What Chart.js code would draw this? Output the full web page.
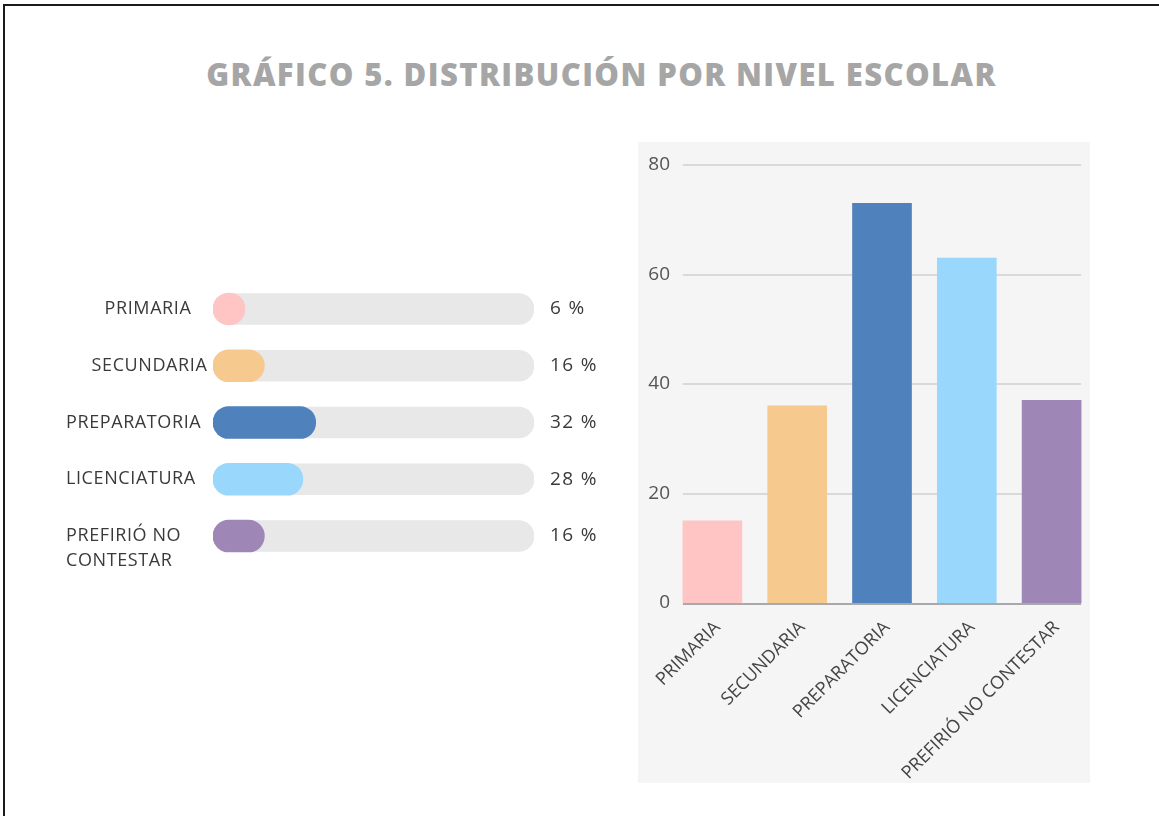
<!DOCTYPE html>
<html><head><meta charset="utf-8">
<script src="https://cdn.jsdelivr.net/npm/chart.js@4"></script>
<style>
html,body{margin:0;padding:0;background:#fff;width:1159px;height:816px;overflow:hidden;}
#frame{position:absolute;left:3px;top:4px;width:1200px;height:900px;border-top:2px solid #1b1b1b;border-left:2px solid #1b1b1b;}
#title{position:absolute;left:0;width:1203px;top:60px;line-height:29px;text-align:center;font-family:'Open Sans';font-weight:800;font-size:31px;letter-spacing:1.4px;color:#a6a6a6;white-space:nowrap;}
#left{position:absolute;left:0;top:260px;}
#right{position:absolute;left:630px;top:140px;}
</style></head>
<body>
<div id="frame"></div>
<div id="title">GRÁFICO 5. DISTRIBUCIÓN POR NIVEL ESCOLAR</div>
<canvas id="left" width="620" height="330"></canvas>
<canvas id="right" width="480" height="660"></canvas>
<script>
const categories = ['PRIMARIA','SECUNDARIA','PREPARATORIA','LICENCIATURA','PREFIRIÓ NO CONTESTAR'];
const leftLabels = ['PRIMARIA','SECUNDARIA','PREPARATORIA','LICENCIATURA',['PREFIRIÓ NO','CONTESTAR']];
const percentValues = [6,16,32,28,16];
const trackValues = [100,100,100,100,100];
const countValues = [15,36,73,63,37];
const yTickMin = 0, yTickMax = 80, yTickStep = 20;

const barColors = ['#FFC4C4','#F6CA8E','#4F81BD','#99D8FC','#9E86B6'];
const leftLabelStyle = [
  {x:148, align:'center'},{x:149.5, align:'center'},{x:66, align:'left'},{x:66, align:'left'},{x:66, align:'left'}
];
const FONT = '"Open Sans", sans-serif';

const leftLabelPlugin = {
  id:'leftLabels',
  afterDraw(chart){
    const ctx=chart.ctx, ys=chart.scales.y, xs=chart.scales.x;
    ctx.save();
    ctx.fillStyle='#3a3a3a'; ctx.textBaseline='middle';
    chart.data.labels.forEach((lab,i)=>{
      const y=ys.getPixelForValue(i);
      const lines=Array.isArray(lab)?lab:[lab];
      const st=leftLabelStyle[i];
      ctx.font='18px '+FONT; ctx.letterSpacing='0.6px';
      ctx.textAlign=st.align;
      lines.forEach((ln,k)=>ctx.fillText(ln, st.x, y+k*25));
      ctx.textAlign='left';
      ctx.font='19px '+FONT; ctx.letterSpacing='1.4px';
      ctx.fillText(percentValues[i]+' %', xs.right+16, y);
    });
    ctx.restore();
  }
};

new Chart(document.getElementById('left'),{
  type:'bar',
  data:{labels:leftLabels,datasets:[
    {data:percentValues,backgroundColor:barColors,borderRadius:16,borderSkipped:false,barThickness:32,minBarLength:32,grouped:false,order:0},
    {data:trackValues,backgroundColor:'#E8E8E8',borderRadius:16,borderSkipped:false,barThickness:31,grouped:false,order:1}
  ]},
  options:{
    indexAxis:'y',responsive:false,animation:false,devicePixelRatio:1,
    layout:{padding:{left:213,right:86,top:20.6,bottom:25.6}},
    scales:{x:{display:false,min:0,max:100},y:{display:false}},
    plugins:{legend:{display:false},tooltip:{enabled:false}}
  },
  plugins:[leftLabelPlugin]
});

const panelPlugin = {
  id:'panel',
  beforeDraw(chart){
    const ctx=chart.ctx; ctx.save(); ctx.fillStyle='#F5F5F5'; ctx.fillRect(8,2,452,641); ctx.restore();
  },
  beforeDatasetsDraw(chart){
    const ctx=chart.ctx, ys=chart.scales.y, meta=chart.getDatasetMeta(0);
    const f=meta.data[0], l=meta.data[meta.data.length-1];
    const x0=f.x-f.width/2, x1=l.x+l.width/2;
    ctx.save(); ctx.strokeStyle='#D9D9D9'; ctx.lineWidth=2;
    ys.ticks.forEach(t=>{ if(t.value===0) return; const y=Math.round(ys.getPixelForValue(t.value));
      ctx.beginPath(); ctx.moveTo(x0,y); ctx.lineTo(x1,y); ctx.stroke(); });
    ctx.restore();
  },
  afterDatasetsDraw(chart){
    const ctx=chart.ctx, ys=chart.scales.y, meta=chart.getDatasetMeta(0);
    const f=meta.data[0], l=meta.data[meta.data.length-1];
    const x0=f.x-f.width/2, x1=l.x+l.width/2;
    const y=Math.round(ys.getPixelForValue(0))+1;
    ctx.save(); ctx.strokeStyle='#A9A9A9'; ctx.lineWidth=2;
    ctx.beginPath(); ctx.moveTo(x0,y); ctx.lineTo(x1,y); ctx.stroke(); ctx.restore();
  }
};

new Chart(document.getElementById('right'),{
  type:'bar',
  data:{labels:categories,datasets:[{data:countValues,backgroundColor:barColors,barThickness:59}]},
  options:{
    responsive:false,animation:false,devicePixelRatio:1,
    layout:{padding:{left:0,right:16,top:25,bottom:0}},
    scales:{
      x:{grid:{display:false,drawTicks:false},border:{display:false},
         afterFit(s){s.height=197;},
         ticks:{autoSkip:false,minRotation:45,maxRotation:45,padding:14,labelOffset:5,color:'#444',font:{family:FONT,size:18}}},
      y:{min:yTickMin,max:yTickMax,grid:{display:false,drawTicks:false},border:{display:false},
         afterFit(s){s.width=40;},
         ticks:{stepSize:yTickStep,padding:0,color:'#555',font:{family:FONT,size:19}}}
    },
    plugins:{legend:{display:false},tooltip:{enabled:false}}
  },
  plugins:[panelPlugin]
});
</script>
</body></html>
